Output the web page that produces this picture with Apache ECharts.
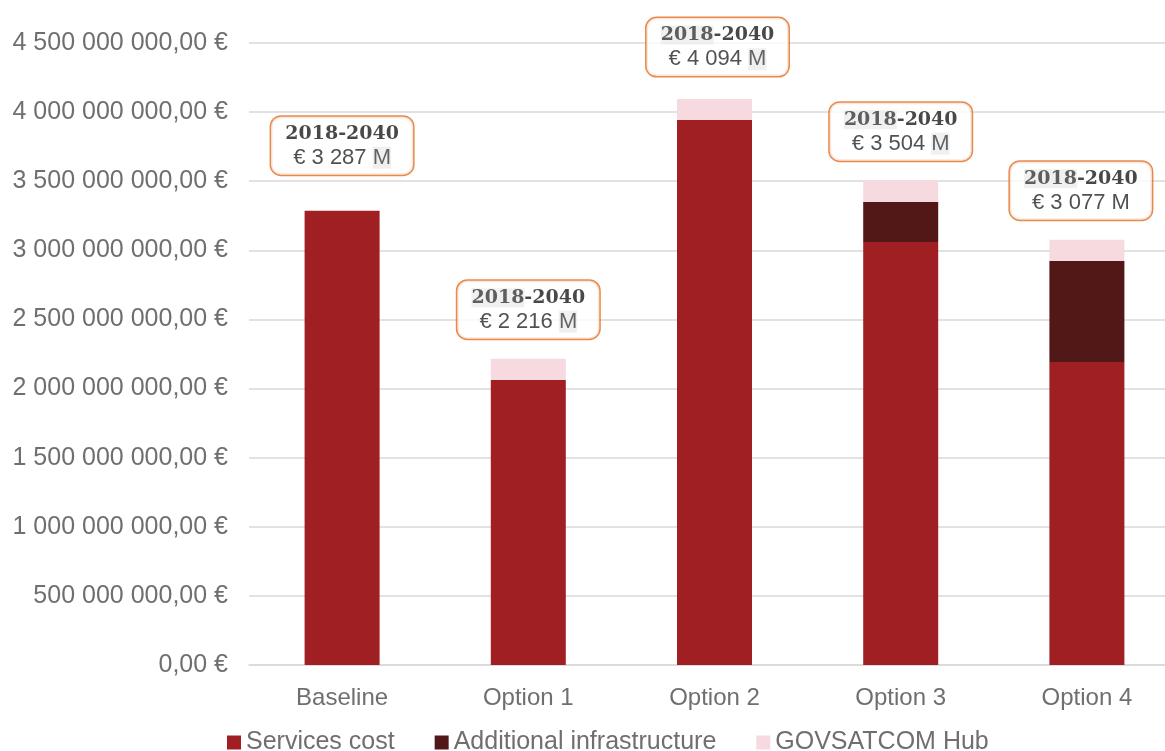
<!DOCTYPE html>
<html>
<head>
<meta charset="utf-8">
<script src="https://cdn.jsdelivr.net/npm/echarts@6/dist/echarts.min.js"></script>
<style>html,body{margin:0;padding:0;background:#fff}#c{width:1165px;height:751px}</style>
</head>
<body>
<div id="c"></div>
<script>
// Values in millions of euros
const categories = ['Baseline', 'Option 1', 'Option 2', 'Option 3', 'Option 4'];
const servicesCost = [3287, 2062, 3943, 3060, 2192];
const additionalInfra = [0, 0, 0, 290, 731];
const govsatcomHub = [0, 154, 151, 154, 154];
const totals = [3287, 2216, 4094, 3504, 3077];
const periodLabel = '2018-2040';
const seriesNames = ['Services cost', 'Additional infrastructure', 'GOVSATCOM Hub'];

const labelDistance = [36, 20, 23, 20, 20];
const labelShiftX = [0, 0, 3, 0, -6];
const hlYear = [false, true, true, true, true];
const hlM = [true, true, true, true, false];

function groupThousands(n) {
  return String(n).replace(/\B(?=(\d{3})+(?!\d))/g, ' ');
}
function axisFmt(v) {
  const euros = Math.round(v * 1e6);
  return groupThousands(euros) + ',00 €';
}

const chart = echarts.init(document.getElementById('c'), null, {renderer: 'canvas'});
const sans = 'Liberation Sans, Arial, sans-serif';
const serif = 'DejaVu Serif, Georgia, serif';

const scatterData = totals.map((t, i) => ({
  value: [categories[i], t],
  label: {distance: labelDistance[i], offset: [labelShiftX[i], 0]}
}));

const option = {
  animation: false,
  textStyle: {fontFamily: sans},
  grid: {left: 249, width: 931, top: 43, bottom: 86, containLabel: false, outerBoundsMode: 'none'},
  legend: {
    data: seriesNames,
    left: 227, top: 730, padding: 0,
    itemWidth: 14, itemHeight: 14, itemGap: 40,
    icon: 'rect',
    textStyle: {fontSize: 25, color: '#6f6f6f', fontFamily: sans}
  },
  xAxis: {
    type: 'category',
    data: categories,
    axisLine: {lineStyle: {color: '#d9d9d9', width: 1.5}},
    axisTick: {show: false},
    axisLabel: {fontSize: 24, color: '#6f6f6f', margin: 21, fontFamily: sans}
  },
  yAxis: {
    type: 'value',
    min: 0, max: 4500, interval: 500,
    axisLine: {show: false},
    axisTick: {show: false},
    splitLine: {lineStyle: {color: '#d9d9d9', width: 1.5}},
    axisLabel: {fontSize: 25, color: '#6f6f6f', margin: 21, fontFamily: sans, formatter: axisFmt}
  },
  series: [
    {name: seriesNames[0], type: 'bar', stack: 'cost', data: servicesCost, barWidth: 75,
      itemStyle: {color: '#a01f23'}},
    {name: seriesNames[1], type: 'bar', stack: 'cost', data: additionalInfra, barWidth: 75,
      itemStyle: {color: '#521818'}},
    {name: seriesNames[2], type: 'bar', stack: 'cost', data: govsatcomHub, barWidth: 75,
      itemStyle: {color: '#f7dadf'}},
    {
      name: 'totals', type: 'scatter', data: scatterData, symbolSize: 0, z: 10,
      label: {
        show: true, position: 'top',
        backgroundColor: '#fff', borderColor: '#e26d22', borderWidth: 1.5, borderRadius: 10,
        padding: [5, 10, 5, 10], width: 122, align: 'center',
        formatter: function (p) {
          const i = p.dataIndex;
          const yr = hlYear[i] ? '{yh|2018}{y|-2040}' : '{y|' + periodLabel + '}';
          const val = '{v|€ ' + groupThousands(totals[i]) + ' }' + (hlM[i] ? '{mh|M}' : '{v|M}');
          return yr + '\n' + val;
        },
        rich: {
          y: {fontFamily: serif, fontWeight: 'bold', fontSize: 19, color: '#1a1a1a', lineHeight: 24, align: 'center'},
          yh: {fontFamily: serif, fontWeight: 'bold', fontSize: 19, color: '#3a3a3a', lineHeight: 24, align: 'center', backgroundColor: '#ececec'},
          v: {fontFamily: sans, fontSize: 22, color: '#262626', lineHeight: 24, align: 'center'},
          mh: {fontFamily: sans, fontSize: 22, color: '#404040', lineHeight: 24, align: 'center', backgroundColor: '#ececec'}
        }
      }
    }
  ]
};
chart.setOption(option);
</script>
</body>
</html>
